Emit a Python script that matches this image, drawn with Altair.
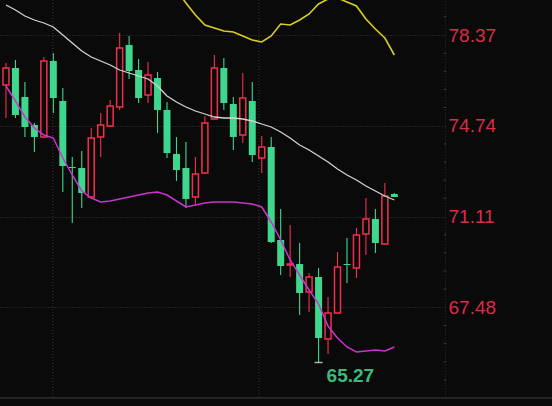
import altair as alt
import pandas as pd

# Daily candles (oldest -> newest)
opens = [76.37, 77.05, 75.89, 74.77, 74.29, 77.33, 75.73, 73.09, 73.05, 71.89,
         74.29, 74.73, 75.49, 77.97, 76.97, 75.97, 76.65, 75.37, 73.61, 73.05,
         71.89, 72.85, 75.01, 77.05, 75.61, 74.37, 75.73, 73.45, 73.89, 70.17,
         69.17, 69.21, 68.09, 68.69, 66.21, 67.25, 69.21, 69.05, 70.41, 71.01,
         70.01, 72.01]
highs = [77.25, 77.37, 76.49, 74.85, 77.49, 77.65, 76.25, 73.49, 73.73, 74.65,
         75.25, 75.77, 78.45, 78.33, 77.41, 77.29, 76.89, 75.69, 74.29, 74.09,
         73.49, 75.13, 77.57, 77.45, 75.89, 76.85, 76.49, 74.33, 74.29, 71.41,
         70.77, 70.05, 68.85, 69.05, 67.89, 69.69, 70.25, 70.65, 71.85, 71.41,
         72.45, 72.05]
lows = [75.05, 75.05, 74.29, 73.69, 74.25, 75.25, 72.09, 70.85, 71.45, 71.85,
        73.49, 74.69, 75.37, 76.61, 75.65, 75.65, 74.45, 73.45, 72.53, 71.45,
        71.57, 72.81, 74.97, 75.37, 73.77, 74.05, 73.29, 72.85, 70.05, 68.77,
        68.69, 67.17, 67.29, 65.27, 65.61, 67.25, 68.45, 68.65, 69.57, 69.65,
        69.97, 71.89]
closes = [77.05, 75.17, 74.69, 74.29, 77.33, 75.85, 73.13, 73.05, 72.05, 74.25,
          74.77, 75.53, 77.85, 76.93, 75.85, 76.77, 75.37, 73.65, 72.97, 71.81,
          72.81, 74.85, 77.05, 75.65, 74.29, 75.85, 73.57, 73.89, 70.09, 69.13,
          69.21, 68.05, 68.69, 66.25, 67.25, 69.09, 69.17, 70.37, 71.01, 70.05,
          71.93, 71.89]

# Moving averages
ma_white = [79.57, 79.37, 79.13, 78.97, 78.85, 78.69, 78.37, 78.05, 77.73, 77.49,
            77.33, 77.17, 76.97, 76.85, 76.73, 76.61, 76.33, 75.93, 75.69, 75.49,
            75.33, 75.21, 75.09, 75.05, 75.05, 75.01, 74.93, 74.81, 74.69, 74.49,
            74.25, 73.97, 73.77, 73.53, 73.29, 73.01, 72.77, 72.57, 72.33, 72.13,
            71.93, 71.77]
ma_magenta = [76.33, 75.73, 75.09, 74.65, 74.37, 74.25, 73.45, 72.77, 72.13, 71.85,
              71.69, 71.73, 71.81, 71.89, 71.97, 72.05, 72.09, 71.97, 71.73, 71.49,
              71.57, 71.65, 71.69, 71.69, 71.69, 71.65, 71.61, 71.49, 70.89, 70.17,
              69.37, 68.77, 68.17, 67.61, 66.73, 66.25, 65.89, 65.69, 65.73, 65.77,
              65.73, 65.89]
ma_yellow = [None] * 18 + [80.17, 79.65, 79.17, 78.77, 78.65, 78.53, 78.49, 78.33,
                           78.17, 78.09, 78.33, 78.81, 78.77, 78.97, 79.21, 79.61,
                           79.81, 79.85, 79.69, 79.53, 79.01, 78.61, 78.25, 77.57]

# Price axis labels, minor tick dots and period separators
price_ticks = [67.48, 71.11, 74.74, 78.37]
minor_ticks = [79.10, 77.64, 76.92, 76.19, 75.47, 74.01, 73.29, 72.56, 71.84,
               70.38, 69.66, 68.93, 68.21, 66.75, 66.03, 65.30, 64.57]
separators = [4.95, 26.7]

BG = "#0a0a0a"
UP = "#f2304e"
DOWN = "#3fd68e"
GRID = "#3a3a3a"

n = len(opens)
df = pd.DataFrame({
    "i": list(range(n)),
    "open": opens, "high": highs, "low": lows, "close": closes,
    "white": ma_white, "magenta": ma_magenta, "yellow": ma_yellow,
})
df["dir"] = ["up" if c >= o else "down" for o, c in zip(opens, closes)]

x_scale = alt.Scale(domain=[-0.103, 45.82], nice=False, zero=False)
y_scale = alt.Scale(domain=[63.85, 79.77], nice=False, zero=False)
X = alt.X("i:Q", scale=x_scale, axis=None)
color_scale = alt.Scale(domain=["up", "down"], range=[UP, DOWN])

base = alt.Chart(df)

y_axis = alt.Axis(
    orient="right", values=price_ticks, format=".2f", title=None,
    labelColor="#dc2c46", labelFontSize=19, labelFont="Liberation Sans",
    labelPadding=3, ticks=False, labelBaseline="middle",
    domain=True, domainColor="#2c2c2c", domainDash=[1, 2], domainWidth=1,
    grid=True, gridColor=GRID, gridDash=[1, 2], gridWidth=1,
)

grid_layer = base.mark_rule(opacity=0).encode(
    x=X, y=alt.Y("close:Q", scale=y_scale, axis=y_axis)
)

sep_layer = alt.Chart(pd.DataFrame({"s": separators})).mark_rule(
    color=GRID, strokeDash=[1, 2], strokeWidth=1
).encode(x=alt.X("s:Q", scale=x_scale, axis=None))

minor_layer = alt.Chart(pd.DataFrame({"m": minor_ticks})).mark_point(
    shape="stroke", size=9, color="#4a4a4a", strokeWidth=1
).encode(x=alt.value(445), y=alt.Y("m:Q", scale=y_scale))

yellow = base.mark_line(color="#d8d020", strokeWidth=1.6, clip=True).encode(
    x=X, y=alt.Y("yellow:Q", scale=y_scale)
).transform_filter("datum.yellow != null")

wicks = base.mark_rule(strokeWidth=1.1, clip=True).encode(
    x=X,
    y=alt.Y("low:Q", scale=y_scale),
    y2="high:Q",
    color=alt.Color("dir:N", scale=color_scale, legend=None),
)

bodies_down = base.mark_bar(width=7, clip=True, color=DOWN).encode(
    x=X, y=alt.Y("open:Q", scale=y_scale), y2="close:Q"
).transform_filter("datum.dir == 'down'")

bodies_up = base.mark_bar(
    width=6, clip=True, fill=BG, stroke=UP, strokeWidth=1.5
).encode(
    x=X, y=alt.Y("open:Q", scale=y_scale), y2="close:Q"
).transform_filter("datum.dir == 'up'")

white = base.mark_line(color="#d4d4d4", strokeWidth=1.3, clip=True).encode(
    x=X, y=alt.Y("white:Q", scale=y_scale)
)
magenta = base.mark_line(color="#cc33cc", strokeWidth=1.5, clip=True).encode(
    x=X, y=alt.Y("magenta:Q", scale=y_scale)
)

# Lowest low marker and its value
low_df = df.loc[[df["low"].idxmin()]].copy()
low_df["label"] = low_df["low"].map(lambda v: f"{v:.2f}")
low_mark = alt.Chart(low_df).mark_point(
    shape="stroke", size=64, color="#f0f0f0", strokeWidth=1.5
).encode(x=X, y=alt.Y("low:Q", scale=y_scale))
low_text = alt.Chart(low_df).mark_text(
    align="left", baseline="middle", dx=8, dy=13, fontSize=19,
    fontWeight="bold", font="Liberation Sans", color="#3abb7c"
).encode(x=X, y=alt.Y("low:Q", scale=y_scale), text="label:N")

bottom_line = alt.Chart(pd.DataFrame({"a": [0]})).mark_rule(
    color="#2e2e2e", strokeWidth=1.5
).encode(x=alt.value(0), x2=alt.value(552), y=alt.value(398))

chart = alt.layer(
    grid_layer, sep_layer, minor_layer, yellow, wicks, bodies_down, bodies_up,
    white, magenta, low_mark, low_text, bottom_line,
).properties(
    width=445, height=398,
    background=BG,
    padding={"left": 0, "top": 0, "right": 107, "bottom": 8},
    autosize=alt.AutoSizeParams(type="none"),
).configure_view(stroke=None)

chart.save("out.html", embed_options={"renderer": "svg", "actions": False})
